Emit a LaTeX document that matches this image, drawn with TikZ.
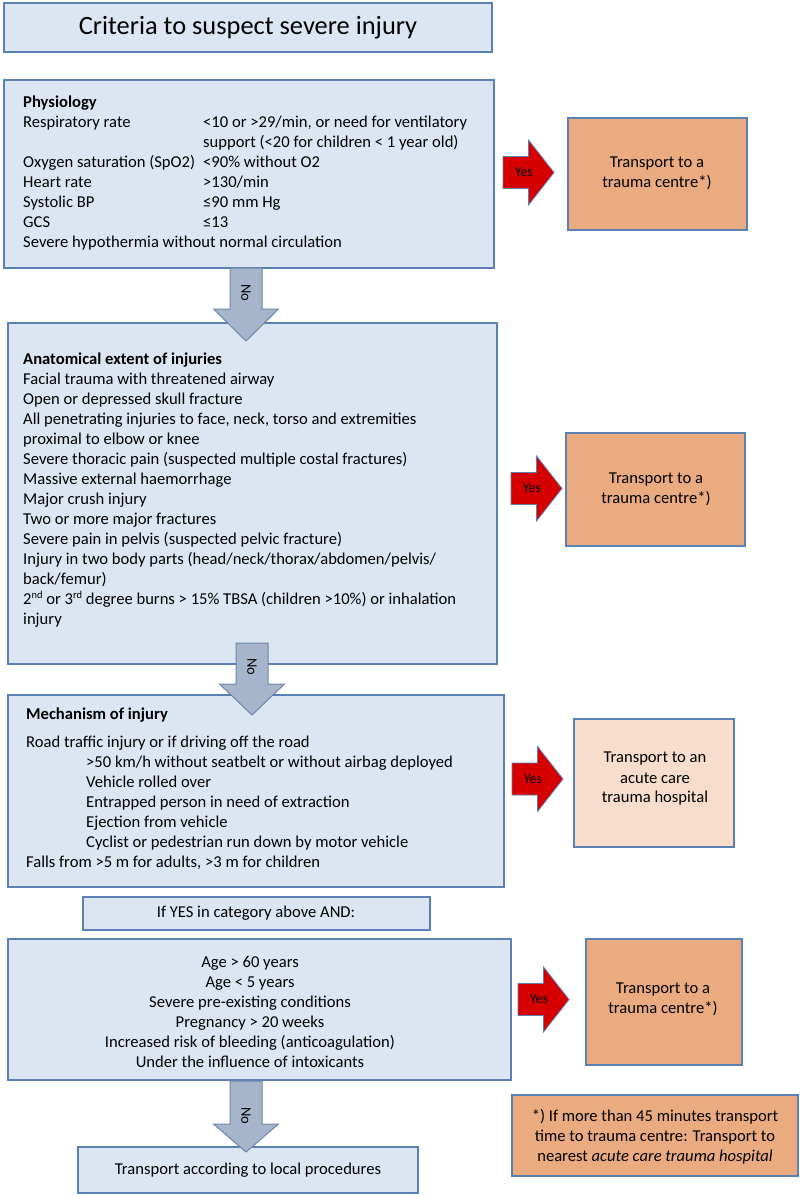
\documentclass[tikz,border=0pt]{standalone}
\usepackage{fontspec}
\setmainfont{Carlito}
\definecolor{bfill}{HTML}{DCE6F2}
\definecolor{bline}{HTML}{5B80B4}
\definecolor{ofill}{HTML}{EAAB80}
\definecolor{pfill}{HTML}{F8DDCC}
\definecolor{rfill}{HTML}{D60000}
\definecolor{gfill}{HTML}{A6B5CB}
\definecolor{gline}{HTML}{6F87A8}
\tikzset{
  box/.style={draw=bline, line width=1.5pt, inner sep=0pt, outer sep=0pt},
  bluebox/.style={box, fill=bfill},
  orangebox/.style={box, fill=ofill},
  peachbox/.style={box, fill=pfill},
  txt/.style={inner sep=0pt, font=\fontsize{16.6}{20}\selectfont},
  btxt/.style={inner sep=0pt, font=\fontsize{16.6}{20}\selectfont\bfseries},
  ctxt/.style={txt, align=center},
  yesarr/.style={fill=rfill, draw=bline, line width=0.8pt, line join=miter},
  noarr/.style={fill=gfill, draw=gline, line width=1pt, line join=miter},
  yeslbl/.style={inner sep=0pt, font=\fontsize{14}{16}\selectfont},
  nolbl/.style={inner sep=0pt, font=\fontsize{14.5}{16}\selectfont, rotate=-90},
}
% box: style, name, x1, y1, x2, y2
\newcommand\bx[6]{\node[#1, minimum width={(#5-#3)*1pt}, minimum height={(#6-#4)*1pt}] (#2) at ({(#3+#5)/2},{(#4+#6)/2}) {};}
% yes arrow: left x, centre y, label name
\newcommand\yesarrow[3]{%
  \draw[yesarr] (#1,#2-16) -- (#1+25.5,#2-16) -- (#1+25.5,#2-32.5) -- (#1+51,#2) -- (#1+25.5,#2+32.5) -- (#1+25.5,#2+16) -- (#1,#2+16) -- cycle;
  \node[yeslbl] (#3) at (#1+21,#2) {Yes};}
% no arrow: centre x, top y, head start y, tip y, label y, label name
\newcommand\dnarrow[6]{%
  \draw[noarr] (#1-16,#2) -- (#1+16,#2) -- (#1+16,#3) -- (#1+32.5,#3) -- (#1,#4) -- (#1-32.5,#3) -- (#1-16,#3) -- cycle;
  \node[nolbl] (#6) at (#1,#5) {No};}
\newcommand\supx[1]{\raisebox{0.35em}{\fontsize{10.5}{12}\selectfont #1}}
\begin{document}
\begin{tikzpicture}[x=1pt,y=-1pt]
\useasboundingbox (0,0) rectangle (800,1195);

% ---------- boxes ----------
\bx{bluebox}{title}{4}{3}{492}{52}
\bx{bluebox}{phys}{4}{80}{494}{268}
\bx{bluebox}{anat}{8}{323}{497}{664}
\bx{bluebox}{mech}{8}{695}{504}{887}
\bx{bluebox}{ifyes}{83}{897}{430}{930}
\bx{bluebox}{age}{8}{939}{511}{1080}
\bx{bluebox}{local}{78}{1147}{418}{1193}
\bx{orangebox}{tc1}{568}{118}{747}{230}
\bx{orangebox}{tc2}{566}{433}{745}{546}
\bx{peachbox}{ach}{574}{719}{734}{847}
\bx{orangebox}{tc4}{586}{939}{742}{1065}
\bx{orangebox}{foot}{512}{1095}{798}{1176}

% ---------- title ----------
\node[inner sep=0pt, font=\fontsize{26.4}{30}\selectfont] (titletxt) at (title.center) {Criteria to suspect severe injury};

% ---------- physiology ----------
\node[btxt, anchor=base west] (ph0) at (23,107) {Physiology};
\node[txt, anchor=base west] (ph1) at (23,127) {Respiratory rate};
\node[txt, anchor=base west] (ph1b) at (203,127) {<10 or >29/min, or need for ventilatory};
\node[txt, anchor=base west] (ph1c) at (203,147) {support (<20 for children < 1 year old)};
\node[txt, anchor=base west] (ph2) at (23,167) {Oxygen saturation (SpO2)};
\node[txt, anchor=base west] (ph2b) at (203,167) {<90\% without O2};
\node[txt, anchor=base west] (ph3) at (23,187) {Heart rate};
\node[txt, anchor=base west] (ph3b) at (203,187) {>130/min};
\node[txt, anchor=base west] (ph4) at (23,207) {Systolic BP};
\node[txt, anchor=base west] (ph4b) at (203,207) {≤90 mm Hg};
\node[txt, anchor=base west] (ph5) at (23,227) {GCS};
\node[txt, anchor=base west] (ph5b) at (203,227) {≤13};
\node[txt, anchor=base west] (ph6) at (23,247) {Severe hypothermia without normal circulation};

% ---------- anatomical ----------
\node[btxt, anchor=base west] (an0) at (23,364) {Anatomical extent of injuries};
\foreach \t [count=\i] in {
  {Facial trauma with threatened airway},
  {Open or depressed skull fracture},
  {All penetrating injuries to face, neck, torso and extremities},
  {proximal to elbow or knee},
  {Severe thoracic pain (suspected multiple costal fractures)},
  {Massive external haemorrhage},
  {Major crush injury},
  {Two or more major fractures},
  {Severe pain in pelvis (suspected pelvic fracture)},
  {Injury in two body parts (head/neck/thorax/abdomen/pelvis/},
  {back/femur)},
  {2\supx{nd} or 3\supx{rd} degree burns > 15\% TBSA (children >10\%) or inhalation},
  {injury}}
  \node[txt, anchor=base west] (an\i) at (23,{364+20*\i}) {\t};

% ---------- mechanism ----------
\node[btxt, anchor=base west] (me0) at (26,719) {Mechanism of injury};
\node[txt, anchor=base west] (me1) at (26,747) {Road traffic injury or if driving off the road};
\node[txt, anchor=base west] (me2) at (86,767) {>50 km/h without seatbelt or without airbag deployed};
\node[txt, anchor=base west] (me3) at (86,787) {Vehicle rolled over};
\node[txt, anchor=base west] (me4) at (86,807) {Entrapped person in need of extraction};
\node[txt, anchor=base west] (me5) at (86,827) {Ejection from vehicle};
\node[txt, anchor=base west] (me6) at (86,847) {Cyclist or pedestrian run down by motor vehicle};
\node[txt, anchor=base west] (me7) at (26,867) {Falls from >5 m for adults, >3 m for children};

% ---------- if yes / age / local ----------
\node[txt] (ifyestxt) at (256,913) {If YES in category above AND:};
\node[ctxt] (agetxt) at (250,1012) {Age > 60 years\\Age < 5 years\\Severe pre-existing conditions\\Pregnancy > 20 weeks\\Increased risk of bleeding (anticoagulation)\\Under the influence of intoxicants};
\node[txt] (localtxt) at (248,1170) {Transport according to local procedures};

% ---------- right boxes text ----------
\node[ctxt] (tc1txt) at (657,173) {Transport to a\\trauma centre*)};
\node[ctxt] (tc2txt) at (656,489) {Transport to a\\trauma centre*)};
\node[ctxt] (achtxt) at (655,779) {Transport to an\\acute care\\trauma hospital};
\node[ctxt] (tc4txt) at (663,999) {Transport to a\\trauma centre*)};
\node[ctxt] (foottxt) at (655,1137) {*) If more than 45 minutes transport\\time to trauma centre: Transport to\\nearest \textit{acute care trauma hospital}};

% ---------- yes arrows ----------
\yesarrow{503}{172.5}{y1}
\yesarrow{511}{488.5}{y2}
\yesarrow{512}{779}{y3}
\yesarrow{518}{999.5}{y4}

% ---------- no arrows ----------
\dnarrow{246}{268}{309}{341}{293}{n1}
\dnarrow{252}{643}{684}{715}{667}{n2}
\dnarrow{246}{1081}{1124}{1152}{1116}{n3}
\end{tikzpicture}
\end{document}
